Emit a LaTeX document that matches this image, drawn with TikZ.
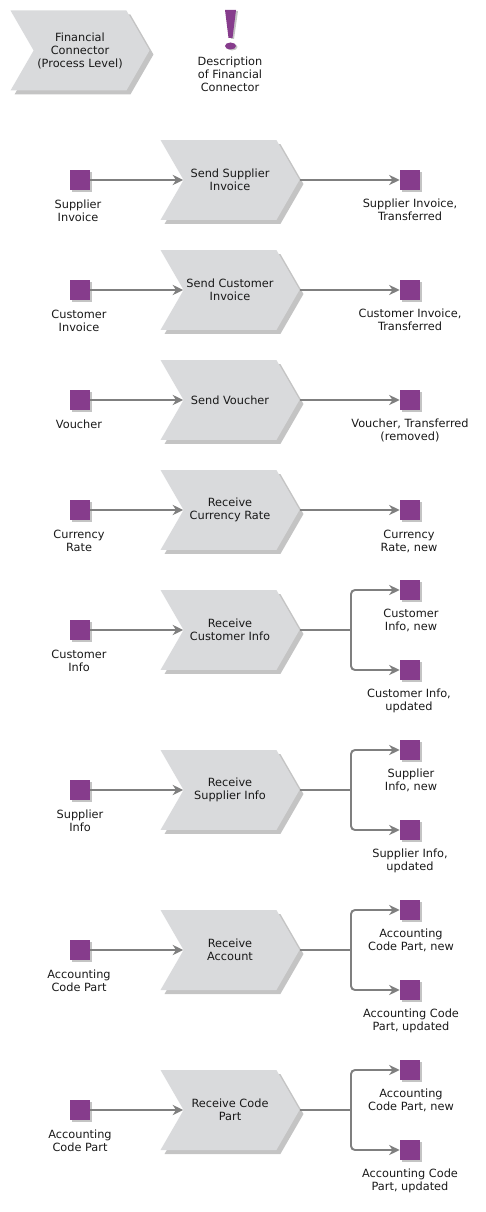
\documentclass[tikz,border=0pt]{standalone}
\usepackage{fontspec}
\setmainfont{DejaVu Sans}
\usetikzlibrary{arrows.meta,positioning,shapes.symbols,shadows}
\definecolor{procgray}{HTML}{D9DADC}
\definecolor{shadowgray}{HTML}{C4C4C4}
\definecolor{linegray}{HTML}{7F7F7F}
\definecolor{infopurple}{HTML}{863C8C}
\tikzset{
  lbl/.style={align=center,font=\fontsize{6.45}{7.4}\selectfont,text=black!90,inner sep=0pt},
  proc/.style={signal,signal from=west,signal to=east,signal pointer angle=120,fill=procgray,
    draw=none,minimum width=2.78cm,minimum height=1.6cm,inner sep=0pt,
    drop shadow={shadow xshift=0.08cm,shadow yshift=-0.08cm,opacity=1,fill=shadowgray}},
  info/.style={rectangle,fill=infopurple,minimum size=0.4cm,inner sep=0pt,
    drop shadow={shadow xshift=0.04cm,shadow yshift=-0.04cm,opacity=1,fill=shadowgray}},
  conn/.style={draw=linegray,line width=1.1pt,-{Stealth[length=6pt,width=5.8pt]}},
  link/.style={draw=linegray,line width=1.1pt}
}
\begin{document}
\begin{tikzpicture}[x=0.02cm,y=-0.02cm]
    \useasboundingbox (0,0) rectangle (485,1212);
    % legend
    \node[proc,lbl] (legend) at (80,50.5) {Financial\\Connector\\(Process Level)};
    \fill[shadowgray] (227,11)--(238,11)--(234,39)--(231,39)--cycle;
    \fill[shadowgray] (232,47) ellipse (5.5 and 3.5);
    \fill[infopurple] (225,10)--(236,10)--(232.5,38)--(228.5,38)--cycle;
    \fill[infopurple] (230.5,46) ellipse (5.5 and 3.5);
    \node[lbl] (legendtxt) at (230,74.5) {Description\\of Financial\\Connector};
    % rows with one result
    \foreach \n/\y/\proctxt/\intxt/\inx/\iny/\outtxt/\outx/\outy in {
      1/180/{Send Supplier\\Invoice}/{Supplier\\Invoice}/78/211/{Supplier Invoice,\\Transferred}/410/210,
      2/290/{Send Customer\\Invoice}/{Customer\\Invoice}/79/321/{Customer Invoice,\\Transferred}/410/320,
      3/400/{Send Voucher}/{Voucher}/79/424.5/{Voucher, Transferred\\(removed)}/410/430,
      4/510/{Receive\\Currency Rate}/{Currency\\Rate}/79/541/{Currency\\Rate, new}/409/541}{
      \node[proc,lbl] (proc\n) at (230,\y) {\proctxt};
      \node[info] (in\n) at (80,\y) {};
      \node[info] (out\n) at (410,\y) {};
      \node[lbl] (intxt\n) at (\inx,\iny) {\intxt};
      \node[lbl] (outtxt\n) at (\outx,\outy) {\outtxt};
      \draw[conn] (in\n) -- (proc\n.west);
      \draw[conn] (proc\n.east) -- (out\n);
    }
    % rows with two results
    \foreach \n/\y/\proctxt/\intxt/\inx/\atxt/\btxt/\bx in {
      5/630/{Receive\\Customer Info}/{Customer\\Info}/79/{Customer\\Info, new}/{Customer Info,\\updated}/409,
      6/790/{Receive\\Supplier Info}/{Supplier\\Info}/80/{Supplier\\Info, new}/{Supplier Info,\\updated}/410,
      7/950/{Receive\\Account}/{Accounting\\Code Part}/79/{Accounting\\Code Part, new}/{Accounting Code\\Part, updated}/411,
      8/1110/{Receive Code\\Part}/{Accounting\\Code Part}/80/{Accounting\\Code Part, new}/{Accounting Code\\Part, updated}/410}{
      \node[proc,lbl] (proc\n) at (230,\y) {\proctxt};
      \node[info] (in\n) at (80,\y) {};
      \node[info] (outa\n) at (410,\y-40) {};
      \node[info] (outb\n) at (410,\y+40) {};
      \coordinate (fork\n) at (351,\y);
      \node[lbl] (intxt\n) at (\inx,\y+31) {\intxt};
      \node[lbl] (outatxt\n) at (411,\y-10) {\atxt};
      \node[lbl] (outbtxt\n) at (\bx,\y+70.5) {\btxt};
      \draw[conn] (in\n) -- (proc\n.west);
      \draw[link] (proc\n.east) -- (fork\n);
      \draw[conn,rounded corners=0.08cm] (fork\n) |- (outa\n);
      \draw[conn,rounded corners=0.08cm] (fork\n) |- (outb\n);
    }
\end{tikzpicture}
\end{document}
